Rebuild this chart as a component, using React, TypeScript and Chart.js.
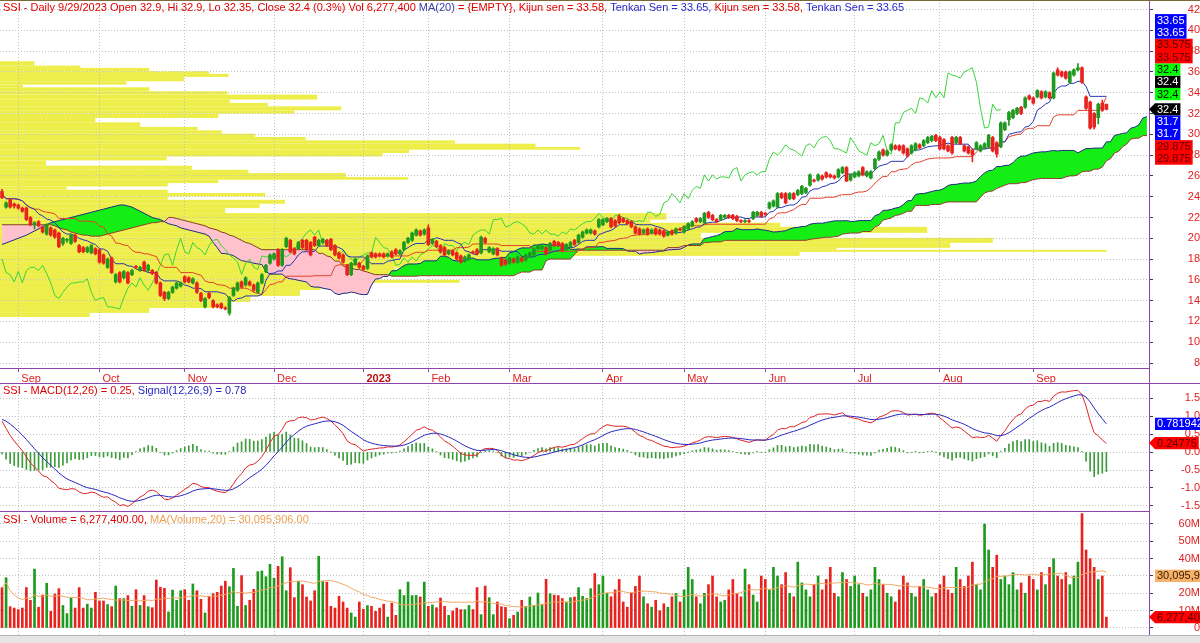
import React, { useEffect, useRef } from "react";
import { Chart, registerables } from "chart.js";
Chart.register(...registerables);

const FONT = "'Liberation Sans', Arial, sans-serif";
Chart.defaults.font.family = FONT;
Chart.defaults.font.size = 11;

const PURPLE = "#8e44ad";
const GRID = "#c2c2c2";
const AXIS_RED = "#e02020";
const UP = "#1e9a1e";
const DOWN = "#e8231f";

// ---------- categories ----------
const monthStartIdx = [4, 24, 45, 67, 89, 105, 125, 148, 168, 188, 210, 231, 254];
const monthNames = ["Sep", "Oct", "Nov", "Dec", "2023", "Feb", "Mar", "Apr", "May", "Jun", "Jul", "Aug", "Sep"];
const FUTURE_BARS = 10;

// ---------- daily prices (Aug 26 2022 .. Sep 29 2023) ----------
const opens = [
  24.5,23.0,23.7,23.3,23.2,22.9,22.9,22.0,21.3,21.6,
  21.1,20.4,21.0,20.8,20.5,19.5,19.8,19.5,20.3,19.3,
  19.1,18.7,18.6,19.0,18.9,18.4,17.2,18.1,15.8,16.7,
  16.2,16.7,16.5,17.3,16.9,17.7,16.9,16.9,16.7,15.7,
  14.8,14.2,14.8,15.2,15.4,16.3,16.2,15.7,15.7,14.7,
  13.4,14.7,14.0,13.6,13.7,13.3,12.8,14.5,15.0,15.8,
  15.5,15.8,15.5,14.8,15.7,16.8,17.6,18.0,18.9,17.4,
  19.2,19.8,19.0,19.0,19.8,19.8,19.6,20.1,19.3,19.6,
  19.8,19.9,19.3,18.6,18.4,17.4,16.5,17.5,17.6,17.3,
  17.1,18.6,18.5,
  18.5,18.5,18.3,18.7,18.9,18.5,18.9,19.6,19.8,20.3,
  20.7,20.4,21.0,19.5,19.7,19.3,19.1,18.5,18.8,18.6,
  18.3,17.8,18.0,18.7,18.9,18.6,20.0,18.7,18.5,19.0,
  18.1,17.9,17.6,18.0,17.7,18.1,17.9,18.3,18.4,19.0,
  19.0,19.1,18.9,19.7,19.6,19.5,18.9,19.2,19.8,19.6,
  20.1,20.5,20.5,20.7,21.1,21.3,21.6,21.9,21.7,22.1,
  21.9,21.7,21.6,21.1,20.9,20.5,20.9,20.5,20.9,20.8,
  20.7,20.3,20.7,20.5,20.9,20.6,20.9,21.2,21.9,21.6,
  21.5,22.5,22.2,21.8,21.8,22.0,22.2,22.2,22.1,21.7,
  21.6,21.7,21.9,22.2,22.5,22.4,22.9,23.1,23.0,24.3,
  24.3,23.8,24.3,24.2,24.3,24.4,25.1,25.6,25.6,26.0,
  26.3,26.1,26.0,25.9,26.3,26.8,25.6,25.9,26.0,26.8,
  26.0,25.8,26.7,27.6,28.5,28.0,28.5,28.9,28.9,28.9,
  28.6,28.2,28.5,29.0,28.9,29.2,29.4,29.9,29.7,29.5,
  28.9,29.7,29.2,29.7,28.9,28.8,28.5,28.6,28.4,28.7,
  28.8,29.7,29.2,28.8,30.45,31.4,31.6,32.0,32.6,32.6,
  33.7,33.5,33.6,34.1,33.6,34.0,33.5,36.2,36.0,36.0,
  35.0,35.7,36.2,36.4,33.6,33.1,32.0,31.6,33.0,32.9,
];
const closes = [
  23.9,23.4,23.0,23.1,22.9,22.6,21.8,21.3,21.5,21.2,
  20.6,21.3,20.3,20.1,19.2,20.0,19.9,20.3,19.7,18.7,
  18.7,19.1,19.3,18.5,17.7,17.6,18.0,16.7,16.5,15.8,
  16.8,15.7,16.9,17.2,17.2,16.9,17.4,16.6,15.7,14.5,
  14.2,14.8,15.3,15.7,15.7,15.8,15.8,16.1,14.8,14.0,
  14.2,14.3,13.4,13.4,13.3,13.2,14.3,15.2,15.7,15.3,
  16.2,15.5,15.0,15.7,16.5,17.4,18.4,18.5,17.4,18.9,
  20.0,18.7,18.5,19.6,19.1,18.9,18.4,19.3,19.8,19.9,
  19.3,18.9,18.4,18.1,17.7,16.5,17.6,18.0,17.2,17.0,
  18.3,18.2,18.2,
  18.3,18.2,18.5,18.2,18.5,18.8,19.6,20.0,20.5,20.8,
  20.3,20.8,19.4,19.9,19.2,18.7,18.4,18.8,18.4,18.0,
  17.7,18.2,18.4,18.6,18.5,20.1,19.6,19.1,19.0,18.4,
  17.4,17.5,18.1,17.7,18.2,17.8,18.4,18.6,19.0,19.3,
  19.2,18.5,19.5,19.3,19.3,18.8,19.4,19.6,19.4,20.3,
  20.6,20.8,20.8,20.4,21.8,21.8,21.9,21.1,21.2,21.5,
  21.6,21.4,21.1,20.5,20.4,20.8,20.4,20.8,20.4,20.4,
  20.2,20.6,20.4,20.9,20.8,21.1,21.4,21.6,21.6,21.9,
  22.4,22.0,21.8,21.6,22.2,22.2,22.0,21.9,21.7,21.6,
  21.7,21.6,22.5,22.5,22.1,22.3,23.4,23.6,24.3,23.9,
  23.4,24.3,23.8,24.6,25.0,24.8,26.1,25.5,26.1,25.7,
  25.9,25.9,25.8,26.6,26.8,25.5,26.1,26.3,26.4,26.1,
  26.4,26.4,27.6,28.3,28.0,28.4,29.0,28.6,28.5,28.2,
  27.9,28.9,29.1,28.7,29.4,29.7,29.8,29.4,28.6,28.6,
  28.4,28.2,29.7,29.1,28.4,28.2,28.0,29.2,28.9,29.1,
  29.9,28.4,28.1,31.1,31.1,32.1,32.3,32.5,32.0,33.5,
  33.4,33.0,34.2,33.5,34.1,33.5,35.9,35.7,35.6,35.4,
  36.0,36.2,36.4,35.0,32.5,30.6,30.7,32.9,32.3,32.4,
];
const highs = [
  24.7,23.5,23.8,23.4,23.3,23.0,23.0,22.1,21.6,21.7,
  21.2,21.4,21.1,20.9,20.6,20.1,20.0,20.4,20.4,19.4,
  19.2,19.2,19.4,19.1,19.0,18.5,18.1,18.2,16.6,16.8,
  16.9,16.8,17.0,17.4,17.3,17.8,17.5,17.0,16.8,15.8,
  14.9,14.9,15.4,15.8,15.8,16.4,16.3,16.2,15.8,14.8,
  14.3,14.8,14.1,13.7,13.8,13.4,14.4,15.3,15.8,15.9,
  16.3,15.9,15.6,15.8,16.6,17.5,18.5,18.6,19.0,19.0,
  20.1,19.9,19.1,19.7,19.9,19.9,19.7,20.2,19.9,20.0,
  19.9,20.0,19.4,18.7,18.5,17.5,17.7,18.1,17.7,17.4,
  18.4,18.7,18.6,
  18.6,18.6,18.6,18.8,19.0,18.9,19.7,20.1,20.6,20.9,
  20.8,20.9,21.3,20.0,19.8,19.4,19.2,18.9,18.9,18.7,
  18.4,18.3,18.5,18.8,19.0,20.2,20.1,19.2,19.1,19.1,
  18.2,18.0,18.2,18.1,18.3,18.2,18.5,18.7,19.1,19.4,
  19.3,19.2,19.6,19.8,19.7,19.6,19.5,19.7,19.9,20.4,
  20.7,20.9,20.9,20.8,21.9,21.9,22.0,22.0,21.8,22.3,
  22.0,21.8,21.7,21.2,21.0,20.9,21.0,20.9,21.0,20.9,
  20.8,20.7,20.8,21.0,21.0,21.2,21.5,21.7,22.0,22.0,
  22.5,22.6,22.3,21.9,22.3,22.3,22.3,22.3,22.2,21.8,
  21.8,21.8,22.6,22.6,22.6,22.5,23.5,23.7,24.4,24.4,
  24.4,24.4,24.4,24.7,25.1,24.9,26.2,25.7,26.2,26.1,
  26.4,26.2,26.1,26.7,26.9,26.9,26.2,26.4,26.5,26.9,
  26.5,26.5,27.7,28.4,28.6,28.5,29.1,29.0,29.0,29.0,
  28.7,29.0,29.2,29.1,29.5,29.8,29.9,30.0,29.8,29.6,
  29.0,29.8,29.8,29.8,29.0,28.9,28.6,29.3,29.0,29.2,
  30.0,29.8,29.3,31.2,31.2,32.2,32.4,32.6,32.7,33.6,
  33.8,33.6,34.3,34.2,34.2,34.1,36.0,36.4,36.1,36.1,
  36.1,36.3,36.8,36.5,33.7,33.2,32.1,33.0,33.3,32.9,
];
const lows = [
  23.8,22.9,22.9,22.9,22.8,22.5,21.7,21.2,20.9,21.1,
  20.5,20.3,20.2,20.0,19.1,19.3,19.6,19.4,19.6,18.6,
  18.6,18.6,18.5,18.4,17.6,17.5,17.1,16.6,15.7,15.7,
  16.1,15.6,16.4,17.1,16.8,16.8,16.8,16.5,15.6,14.4,
  14.0,14.1,14.7,15.1,15.3,15.7,15.7,15.6,14.7,13.9,
  13.3,14.2,13.3,13.3,13.2,13.1,12.6,14.4,14.9,15.2,
  15.4,15.4,14.9,14.7,15.6,16.7,17.5,17.9,17.3,17.3,
  19.1,18.6,18.4,18.9,19.0,18.8,18.3,19.2,19.2,19.5,
  19.2,18.8,18.3,18.0,17.6,16.4,16.4,17.4,17.1,16.9,
  17.0,18.1,18.1,
  18.2,18.1,18.2,18.1,18.4,18.4,18.8,19.5,19.7,20.2,
  20.2,20.3,19.3,19.4,19.1,18.6,18.3,18.4,18.3,17.9,
  17.6,17.7,17.9,18.5,18.4,18.5,19.5,18.6,18.4,18.3,
  17.3,17.4,17.5,17.6,17.6,17.7,17.8,18.2,18.3,18.9,
  18.9,18.4,18.8,19.2,19.2,18.7,18.8,19.1,19.3,19.5,
  20.0,20.4,20.4,20.3,21.0,21.2,21.5,21.0,21.1,21.4,
  21.5,21.3,21.0,20.4,20.3,20.4,20.3,20.4,20.3,20.3,
  20.1,20.2,20.3,20.4,20.7,20.5,20.8,21.1,21.5,21.5,
  21.4,21.9,21.7,21.5,21.7,21.9,21.9,21.8,21.6,21.5,
  21.5,21.5,21.8,22.1,22.0,22.2,22.8,23.0,22.9,23.8,
  23.3,23.7,23.7,24.1,24.2,24.3,25.0,25.4,25.5,25.6,
  25.8,25.8,25.7,25.8,26.2,25.45,25.5,25.8,25.9,26.0,
  25.9,25.7,26.6,27.5,27.9,27.9,28.4,28.5,28.4,28.1,
  27.8,28.1,28.4,28.6,28.8,29.1,29.3,29.3,28.5,28.5,
  28.3,28.1,29.1,29.0,28.3,28.1,27.35,28.5,28.3,28.6,
  28.7,28.3,27.8,28.7,30.35,30.85,31.5,31.9,31.9,32.5,
  33.3,32.9,33.5,33.4,33.5,33.4,33.4,35.6,35.5,35.3,
  34.9,35.6,36.1,34.9,32.4,30.5,30.5,31.0,32.2,32.35,
];
// volume in millions of shares
const volumesM = [
  23.3,29,12.3,11.5,10.6,11.5,23.3,16.0,34,12,
  19,25.8,9.6,19.6,22.7,13,8.3,17.3,11.5,23.3,
  11.5,13.7,11.5,20.6,15.6,15.6,13.5,12.3,24.2,17,
  17,18.7,12.5,22.1,13,18.7,12.3,11.7,27.7,23.5,
  22.9,9.2,21.9,16,21.5,22.1,16,25.4,21.5,16.6,
  8.7,18.3,19.8,20.6,24.2,27,23.8,34.4,12.5,30.2,
  13,16,22.3,32.5,32.9,29.6,36.7,28.7,35.6,41.1,
  21.5,34.8,17.5,26.9,25,17.9,15.6,21.5,41.4,27.1,
  26.5,12.5,11.5,18.3,15,11.5,8.7,6.3,15,10.8,
  12.9,12.5,9.6,11.5,13.7,6.3,14.4,7.3,22.1,18.7,
  26.5,18.7,18.8,17.9,26.5,12.5,13.3,11.7,17.3,12.5,
  7.3,9.8,11.5,10.6,10.6,13,10.6,23.3,7.7,24.2,
  17.5,7.7,15,12.3,11.9,5.4,7.3,9.2,16,12.5,
  17.9,13,20.2,13.7,28.1,19.8,19,18.7,17,15,
  17.5,17.9,23.3,18.3,17,22.7,31.4,
  25,30,20,18,22,28,15,12,20,24,30,18,14,12,16,10,14,12,18,20,15,
  22,35,28,18,14,20,25,30,18,15,16,22,28,20,18,34,25,19,15,30,
  28,22,35,30,25,32,20,18,38,26,22,18,25,30,22,28,35,20,18,32,28,24,
  30,25,20,18,22,35,28,25,20,18,15,22,30,26,20,18,24,28,22,18,20,
  25,30,22,20,35,28,24,30,38,25,22,60,45,35,42,28,30,25,32,22,26,20,30,
  28,22,32,25,35,40,30,28,32,25,30,38,66,45,40,35,28,30,6.2774,
];

// ---------- cloud values read where the look-back starts before the first bar ----------
const spanAHead = [
  19.4,19.55,19.7,19.85,20.0,20.15,20.3,20.5,20.7,20.9,21.1,21.3,
  21.5,21.6,21.7,21.8,21.9,22.0,22.1,22.2,22.3,22.4,22.5,22.6,22.7,22.8,22.9,23.0,23.1,23.2,23.2,
  23.1,23.0,22.8,22.6,22.4,22.2,22.0,21.9,21.8,21.6,
  21.4,21.3,21.2,21.0,20.9,20.8,20.7,20.6,20.5,20.4,20.2,
];
const spanBHead = [
  21.3,21.3,21.3,21.3,21.3,21.3,21.3,21.3,21.3,21.3,21.3,21.3,
  21.3,21.2,21.0,20.9,20.8,20.6,20.5,20.4,20.3,20.3,20.2,20.2,20.2,20.3,20.4,20.5,20.6,20.7,20.8,
  20.9,21.0,21.1,21.2,21.3,21.4,21.5,21.5,21.6,21.6,
  22.0,22.0,21.9,21.8,21.7,21.6,21.5,21.4,21.3,21.2,
  21.0,20.9,20.8,20.6,20.5,20.3,20.2,
  20.0,19.8,19.6,19.5,19.3,19.1,18.9,
  18.9,18.9,18.9,18.9,18.9,18.9,18.9,18.9,18.9,18.9,18.9,18.9,18.9,
];

// MACD state just before the first bar (read from the left edge of the MACD pane)
const EMA12_START = 25.35;
const EMA26_START = 24.3;
const SIGNAL_START = 0.92;

// ---------- volume-at-price profile (price edges, width in % of pane) ----------
const profileEdges = [
  37.03,36.61,36.39,36.06,35.81,35.52,35.10,34.78,34.52,34.14,33.82,33.34,33.02,32.69,32.31,31.99,
  31.57,31.15,30.71,30.38,30.06,29.74,29.42,29.10,28.78,28.52,28.20,27.87,27.49,26.98,26.59,26.28,
  25.89,25.63,25.31,24.98,24.67,24.35,24.02,23.70,23.32,22.90,22.42,21.78,21.49,21.10,20.52,20.04,
  19.56,19.08,18.89,18.69,18.31,17.73,17.15,16.48,16.00,15.71,15.03,14.45,13.88,13.30,12.82,12.43,
];
const profileWidthPct = [
  3.0,7.0,13.0,18.2,19.9,16.0,11.0,2.0,13.0,19.8,27.6,20.0,23.3,29.7,25.6,19.0,
  8.3,12.2,17.2,19.3,22.2,26.6,39.6,46.6,50.5,35.6,33.3,14.5,4.0,16.7,21.6,30.1,
  35.5,19.0,14.6,5.8,14.6,23.1,14.6,24.8,22.6,19.6,58.0,56.6,67.9,80.7,61.0,86.4,
  82.7,72.8,96.3,69.6,45.0,36.6,34.4,33.0,40.0,27.9,26.1,21.8,20.0,13.0,7.8,
];

// ---------- text ----------
const priceTitle: [string, string][] = [
  ["SSI - Daily 9/29/2023 Open 32.9, Hi 32.9, Lo 32.35, Close 32.4 (0.3%) Vol 6,277,400 ", "#e00000"],
  ["MA(20)", "#3a3aa8"],
  [" = {EMPTY}, Kijun sen = 33.58, ", "#e00000"],
  ["Tenkan Sen = 33.65, ", "#2828c8"],
  ["Kijun sen = 33.58, ", "#e00000"],
  ["Tenkan Sen = 33.65", "#2828c8"],
];
const macdTitle: [string, string][] = [
  ["SSI - MACD(12,26) = 0.25, ", "#e00000"],
  ["Signal(12,26,9) = 0.78", "#2828c8"],
];
const volTitle: [string, string][] = [
  ["SSI - Volume = 6,277,400.00, ", "#e00000"],
  ["MA(Volume,20) = 30,095,906.00", "#f0a050"],
];
const LAST_CLOSE = 32.4;
const TENKAN_LAST = "33.65";
const KIJUN_LAST = "33.575";
const SPANA_LAST = "31.7";
const SPANB_LAST = "29.875";
const MACD_LAST = 0.24775;
const SIGNAL_LAST = 0.781942;
const VOLMA_LAST = 30.095906;
const VOL_LAST = 6.2774;

// ---------- derived series ----------
const N = closes.length;
const TOTAL = N + FUTURE_BARS;
const labels = Array.from({ length: TOTAL }, (_, i) => String(i));

function hhv(a: number[], i: number, n: number) {
  let m = -Infinity;
  for (let k = Math.max(0, i - n + 1); k <= i; k++) m = Math.max(m, a[k]);
  return m;
}
function llv(a: number[], i: number, n: number) {
  let m = Infinity;
  for (let k = Math.max(0, i - n + 1); k <= i; k++) m = Math.min(m, a[k]);
  return m;
}
const tenkan = closes.map((_, i) => (hhv(highs, i, 9) + llv(lows, i, 9)) / 2);
const kijun = closes.map((_, i) => (hhv(highs, i, 26) + llv(lows, i, 26)) / 2);
const spanA = Array.from({ length: TOTAL }, (_, p) =>
  p < spanAHead.length ? spanAHead[p] : p - 26 < N ? (tenkan[p - 26] + kijun[p - 26]) / 2 : null
);
const spanB = Array.from({ length: TOTAL }, (_, p) =>
  p < spanBHead.length ? spanBHead[p] : p - 26 < N ? (hhv(highs, p - 26, 52) + llv(lows, p - 26, 52)) / 2 : null
);
const chikou = Array.from({ length: TOTAL }, (_, p) => (p + 26 < N ? closes[p + 26] : null));

const macd: number[] = [];
const signal: number[] = [];
const hist: number[] = [];
{
  let e12 = EMA12_START, e26 = EMA26_START, sig = SIGNAL_START;
  for (const c of closes) {
    e12 += (2 / 13) * (c - e12);
    e26 += (2 / 27) * (c - e26);
    const m = e12 - e26;
    sig += 0.2 * (m - sig);
    macd.push(m);
    signal.push(sig);
    hist.push(m - sig);
  }
}
const volMA = volumesM.map((_, i) => {
  const s = Math.max(0, i - 19);
  let t = 0;
  for (let k = s; k <= i; k++) t += volumesM[k];
  return t / (i - s + 1);
});
const candleColor = closes.map((c, i) => (c >= opens[i] ? UP : DOWN));

// ---------- helpers ----------
function drawSegments(ctx: CanvasRenderingContext2D, x: number, y: number, segs: [string, string][]) {
  ctx.save();
  ctx.font = `11px ${FONT}`;
  ctx.textBaseline = "top";
  ctx.textAlign = "left";
  for (const [t, c] of segs) {
    ctx.fillStyle = c;
    ctx.fillText(t, x, y);
    x += ctx.measureText(t).width;
  }
  ctx.restore();
}

function drawTag(ctx: CanvasRenderingContext2D, x: number, top: number, lines: string[], bg: string, fg: string, arrow: boolean) {
  const lh = 12.3;
  ctx.save();
  ctx.font = `11px ${FONT}`;
  const w = Math.max(...lines.map((t) => ctx.measureText(t).width)) + 4;
  const h = lh * lines.length;
  ctx.fillStyle = bg;
  if (arrow) {
    ctx.beginPath();
    ctx.moveTo(x - 6, top + h / 2);
    ctx.lineTo(x, top);
    ctx.lineTo(x + w, top);
    ctx.lineTo(x + w, top + h);
    ctx.lineTo(x, top + h);
    ctx.closePath();
    ctx.fill();
  } else {
    ctx.fillRect(x, top, w, h);
  }
  ctx.fillStyle = fg;
  ctx.textBaseline = "middle";
  ctx.textAlign = "left";
  lines.forEach((t, k) => ctx.fillText(t, x + 2, top + lh * (k + 0.5) + 0.5));
  ctx.restore();
  return h;
}

function monthXAxis(showLabels: boolean) {
  const isMonth = (i: number) => monthStartIdx.includes(i);
  return {
    type: "category",
    labels,
    offset: true,
    grid: {
      offset: false,
      color: GRID,
      lineWidth: (c: any) => (isMonth(c.index) ? 1 : 0),
      drawTicks: showLabels,
      tickLength: 4,
      tickColor: PURPLE,
      tickWidth: (c: any) => (isMonth(c.index) ? 1 : 0),
    },
    border: { display: showLabels, color: PURPLE, width: 1, dash: [1, 2] },
    ticks: {
      display: showLabels,
      autoSkip: false,
      maxRotation: 0,
      minRotation: 0,
      padding: 0,
      align: "start",
      color: (c: any) => (c.index === 89 ? "#c01010" : AXIS_RED),
      font: (c: any) => ({ family: FONT, size: 11, weight: c.index === 89 ? "bold" : "normal" }),
      callback: (_v: any, i: number) => {
        const k = monthStartIdx.indexOf(i);
        return k >= 0 ? " " + monthNames[k] : "";
      },
    },
    afterFit: (s: any) => {
      s.height = showLabels ? 15 : 0;
      s.paddingLeft = 0;
      s.paddingRight = 0;
    },
  };
}

function rightAxis(min: number, max: number, step: number, pad: number, fmt: (v: number) => string) {
  return {
    position: "right",
    min,
    max,
    ticks: {
      stepSize: step,
      includeBounds: false,
      color: AXIS_RED,
      font: { family: FONT, size: 11 },
      padding: pad,
      crossAlign: "far",
      callback: (v: any) => fmt(Number(v)),
    },
    grid: { color: GRID, lineWidth: 1, drawTicks: true, tickLength: 4, tickColor: "#404040" },
    border: { display: true, color: PURPLE, width: 1, dash: [1, 2] },
    afterFit: (s: any) => {
      s.width = 51;
      s.paddingTop = 0;
      s.paddingBottom = 0;
    },
  };
}

const commonOpts = {
  responsive: false,
  animation: false,
  events: [],
  layout: { padding: 0 },
  plugins: { legend: { display: false }, tooltip: { enabled: false }, title: { display: false } },
};

// ---------- price pane ----------
function priceConfig(): any {
  const profilePlugin = {
    id: "profile",
    beforeDraw(chart: any) {
      const { ctx, chartArea, scales } = chart;
      const y = scales.y, xp = scales.xp;
      ctx.save();
      ctx.beginPath();
      ctx.rect(chartArea.left, chartArea.top, chartArea.right - chartArea.left, chartArea.bottom - chartArea.top);
      ctx.clip();
      ctx.fillStyle = "#eeee4a";
      const x0 = xp.getPixelForValue(0);
      for (let k = 0; k < profileWidthPct.length; k++) {
        const yt = y.getPixelForValue(profileEdges[k]);
        const yb = y.getPixelForValue(profileEdges[k + 1]);
        const x1 = xp.getPixelForValue(profileWidthPct[k]);
        ctx.fillRect(x0, yt, x1 - x0, yb - yt);
      }
      ctx.restore();
    },
  };
  const decoPlugin = {
    id: "deco",
    afterDraw(chart: any) {
      const { ctx, chartArea, scales } = chart;
      drawSegments(ctx, 3, 2, priceTitle);
      ctx.save();
      ctx.strokeStyle = PURPLE;
      ctx.beginPath();
      ctx.moveTo(chartArea.right + 0.5, chartArea.bottom);
      ctx.lineTo(chartArea.right + 0.5, chart.height);
      ctx.stroke();
      ctx.restore();
      // stacked value tags on the price axis
      const xTag = chartArea.right + 6;
      const anchor = scales.y.getPixelForValue(LAST_CLOSE);
      const lh = 12.3;
      const closeTxt = String(LAST_CLOSE);
      drawTag(ctx, xTag, anchor - lh / 2, [closeTxt], "#000000", "#ffffff", true);
      let top = anchor - lh / 2 - 3;
      const above: [string[], string, string][] = [
        [[closeTxt], "#00ff00", "#000000"],
        [[closeTxt], "#000000", "#ffffff"],
        [[closeTxt], "#00ff00", "#000000"],
        [[KIJUN_LAST, KIJUN_LAST], "#ff0000", "#5a0000"],
        [[TENKAN_LAST, TENKAN_LAST], "#0000ff", "#ffffff"],
      ];
      for (const [lines, bg, fg] of above) {
        top -= lh * lines.length;
        drawTag(ctx, xTag, top, lines, bg, fg, false);
      }
      let bot = anchor + lh / 2;
      const below: [string[], string, string][] = [
        [[SPANA_LAST, SPANA_LAST], "#0000ff", "#ffffff"],
        [[SPANB_LAST, SPANB_LAST], "#ff0000", "#5a0000"],
      ];
      for (const [lines, bg, fg] of below) {
        bot += drawTag(ctx, xTag, bot, lines, bg, fg, false);
      }
    },
  };
  return {
    type: "bar",
    data: {
      labels,
      datasets: [
        {
          type: "line", label: "Senkou A", data: spanA, xAxisID: "x", yAxisID: "y",
          borderColor: "#1c2a80", borderWidth: 1, pointRadius: 0,
          fill: { target: 1, above: "#14ee14", below: "#ffc2cc" }, order: 10,
        },
        {
          type: "line", label: "Senkou B", data: spanB, xAxisID: "x", yAxisID: "y",
          borderColor: "#8a3c28", borderWidth: 1, pointRadius: 0, fill: false, order: 9,
        },
        {
          type: "line", label: "Chikou", data: chikou, xAxisID: "x", yAxisID: "y",
          borderColor: "#3ad43a", borderWidth: 1, pointRadius: 0, fill: false, order: 5,
        },
        {
          type: "line", label: "Kijun", data: kijun, xAxisID: "x", yAxisID: "y",
          borderColor: "#e4402a", borderWidth: 1, pointRadius: 0, fill: false, order: 4,
        },
        {
          type: "line", label: "Tenkan", data: tenkan, xAxisID: "x", yAxisID: "y",
          borderColor: "#2434b0", borderWidth: 1, pointRadius: 0, fill: false, order: 3,
        },
        {
          type: "bar", label: "wick", data: lows.map((l, i) => [l, highs[i]]), xAxisID: "x", yAxisID: "y",
          backgroundColor: candleColor, barThickness: 1, grouped: false, order: 2,
        },
        {
          type: "bar", label: "body", data: opens.map((o, i) => [o, closes[i]]), xAxisID: "x", yAxisID: "y",
          backgroundColor: candleColor, barThickness: 3, minBarLength: 1, grouped: false, order: 1,
        },
      ],
    },
    options: {
      ...commonOpts,
      plugins: { ...commonOpts.plugins, filler: { drawTime: "beforeDatasetDraw" } },
      scales: {
        x: monthXAxis(true),
        xp: { type: "linear", axis: "x", display: false, offset: false, grid: { offset: false }, min: 0, max: 100 },
        y: rightAxis(7.52, 42.92, 2, 32, (v) => String(v)),
      },
    },
    plugins: [profilePlugin, decoPlugin],
  };
}

// ---------- MACD pane ----------
function macdConfig(): any {
  const deco = {
    id: "macdDeco",
    afterDraw(chart: any) {
      const { ctx, chartArea, scales } = chart;
      drawSegments(ctx, 3, 2, macdTitle);
      ctx.save();
      ctx.strokeStyle = PURPLE;
      ctx.beginPath();
      ctx.moveTo(0, 0.5);
      ctx.lineTo(chart.width, 0.5);
      ctx.stroke();
      ctx.restore();
      const x = chartArea.right + 6;
      const lh = 12.3;
      drawTag(ctx, x, scales.y.getPixelForValue(SIGNAL_LAST) - lh / 2, [String(SIGNAL_LAST)], "#0000ff", "#ffffff", false);
      drawTag(ctx, x, scales.y.getPixelForValue(MACD_LAST) - lh / 2, [String(MACD_LAST)], "#ff0000", "#5a0000", true);
    },
  };
  return {
    type: "bar",
    data: {
      labels,
      datasets: [
        { type: "line", label: "MACD", data: macd, borderColor: "#e02424", borderWidth: 1, pointRadius: 0, order: 2 },
        { type: "line", label: "Signal", data: signal, borderColor: "#2828c0", borderWidth: 1, pointRadius: 0, order: 1 },
        { type: "bar", label: "Hist", data: hist, backgroundColor: "#3c9c3c", barThickness: 1, grouped: false, order: 3 },
      ],
    },
    options: {
      ...commonOpts,
      scales: {
        x: monthXAxis(false),
        y: rightAxis(-1.639, 1.917, 0.5, 25, (v) => v.toFixed(1)),
      },
    },
    plugins: [deco],
  };
}

// ---------- volume pane ----------
function volConfig(): any {
  const deco = {
    id: "volDeco",
    afterDraw(chart: any) {
      const { ctx, chartArea, scales } = chart;
      drawSegments(ctx, 3, 3, volTitle);
      ctx.save();
      ctx.strokeStyle = PURPLE;
      ctx.beginPath();
      ctx.moveTo(0, 0.5);
      ctx.lineTo(chartArea.right, 0.5);
      ctx.stroke();
      ctx.restore();
      const x = chartArea.right + 6;
      const lh = 12.3;
      drawTag(ctx, x, scales.y.getPixelForValue(VOLMA_LAST) - lh / 2, ["30,095,906"], "#f7b26a", "#3a2000", false);
      drawTag(ctx, x, scales.y.getPixelForValue(VOL_LAST) - lh / 2, ["6,277,400"], "#ff0000", "#5a0000", true);
    },
  };
  return {
    type: "bar",
    data: {
      labels,
      datasets: [
        { type: "line", label: "MA20", data: volMA, borderColor: "#f2a860", borderWidth: 1, pointRadius: 0, order: 1 },
        { type: "bar", label: "Volume", data: volumesM, backgroundColor: candleColor, barThickness: 2, grouped: false, order: 2 },
      ],
    },
    options: {
      ...commonOpts,
      scales: {
        x: monthXAxis(false),
        y: rightAxis(-4.04, 67.5, 10, 23, (v) => (v === 0 ? "0" : `${v}M`)),
      },
    },
    plugins: [deco],
  };
}

export default function App() {
  const r1 = useRef<HTMLCanvasElement>(null);
  const r2 = useRef<HTMLCanvasElement>(null);
  const r3 = useRef<HTMLCanvasElement>(null);
  useEffect(() => {
    const c1 = new Chart(r1.current as HTMLCanvasElement, priceConfig());
    const c2 = new Chart(r2.current as HTMLCanvasElement, macdConfig());
    const c3 = new Chart(r3.current as HTMLCanvasElement, volConfig());
    return () => {
      c1.destroy();
      c2.destroy();
      c3.destroy();
    };
  }, []);
  const cv = (top: number, h: number): React.CSSProperties => ({
    position: "absolute", left: 0, top, width: 1200, height: h, display: "block",
  });
  return (
    <div style={{ position: "fixed", left: 0, top: 0, width: 1200, height: 643, background: "#ffffff", overflow: "hidden" }}>
      <canvas ref={r1} width={1200} height={383} style={cv(0, 383)} />
      <canvas ref={r2} width={1200} height={128} style={cv(383, 128)} />
      <canvas ref={r3} width={1200} height={124} style={cv(511, 124)} />
      <div style={{ position: "absolute", left: 0, top: 0, width: 1200, height: 1, background: "#7a6a3a" }} />
      <div style={{ position: "absolute", left: 0, top: 635, width: 1200, height: 8, background: "#e6e6e6", borderTop: "1px solid #b4b4b4" }} />
    </div>
  );
}
